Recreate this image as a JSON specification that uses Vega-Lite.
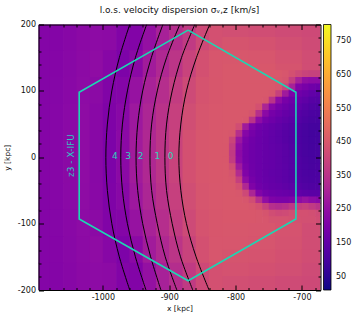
{"$schema":"https://vega.github.io/schema/vega-lite/v6.json","width":282,"height":265.5,"autosize":{"type":"none"},"padding":{"left":38.5,"top":24.5,"right":36.5,"bottom":29},"background":"white","view":{"stroke":null},
"title":{"text":"l.o.s. velocity dispersion σᵥ,z [km/s]","font":"DejaVu Sans","fontSize":9,"fontWeight":"normal","color":"#111","anchor":"middle","offset":6},
"datasets":{
"cells":[
{"x":-1100,"x2":-1080,"y":160,"y2":200,"v":220},{"x":-1080,"x2":-1060,"y":160,"y2":200,"v":221},{"x":-1060,"x2":-1040,"y":160,"y2":200,"v":227},{"x":-1040,"x2":-1020,"y":160,"y2":200,"v":235},{"x":-1020,"x2":-1000,"y":160,"y2":200,"v":240},{"x":-1000,"x2":-980,"y":160,"y2":200,"v":238},{"x":-980,"x2":-960,"y":160,"y2":200,"v":217},{"x":-960,"x2":-940,"y":160,"y2":200,"v":217},{"x":-940,"x2":-920,"y":160,"y2":200,"v":255},{"x":-920,"x2":-900,"y":160,"y2":200,"v":300},{"x":-900,"x2":-880,"y":160,"y2":200,"v":335},{"x":-880,"x2":-860,"y":160,"y2":200,"v":370},{"x":-860,"x2":-840,"y":160,"y2":200,"v":410},{"x":-840,"x2":-820,"y":160,"y2":200,"v":430},
{"x":-1100,"x2":-1080,"y":120,"y2":160,"v":220},{"x":-1080,"x2":-1060,"y":120,"y2":160,"v":222},{"x":-1060,"x2":-1040,"y":120,"y2":160,"v":229},{"x":-1040,"x2":-1020,"y":120,"y2":160,"v":238},{"x":-1020,"x2":-1000,"y":120,"y2":160,"v":244},{"x":-1000,"x2":-980,"y":120,"y2":160,"v":228},{"x":-980,"x2":-960,"y":120,"y2":160,"v":205},{"x":-960,"x2":-940,"y":120,"y2":160,"v":235},{"x":-940,"x2":-920,"y":120,"y2":160,"v":285},{"x":-920,"x2":-900,"y":120,"y2":160,"v":320},{"x":-900,"x2":-880,"y":120,"y2":160,"v":355},{"x":-880,"x2":-860,"y":120,"y2":160,"v":395},{"x":-860,"x2":-840,"y":120,"y2":160,"v":430},{"x":-840,"x2":-820,"y":120,"y2":160,"v":445},
{"x":-1100,"x2":-1080,"y":80,"y2":120,"v":220},{"x":-1080,"x2":-1060,"y":80,"y2":120,"v":223},{"x":-1060,"x2":-1040,"y":80,"y2":120,"v":231},{"x":-1040,"x2":-1020,"y":80,"y2":120,"v":241},{"x":-1020,"x2":-1000,"y":80,"y2":120,"v":236},{"x":-1000,"x2":-980,"y":80,"y2":120,"v":215},{"x":-980,"x2":-960,"y":80,"y2":120,"v":220},{"x":-960,"x2":-940,"y":80,"y2":120,"v":260},{"x":-940,"x2":-920,"y":80,"y2":120,"v":302},{"x":-920,"x2":-900,"y":80,"y2":120,"v":337},{"x":-900,"x2":-880,"y":80,"y2":120,"v":375},{"x":-880,"x2":-860,"y":80,"y2":120,"v":412},{"x":-860,"x2":-840,"y":80,"y2":120,"v":437},{"x":-840,"x2":-820,"y":80,"y2":120,"v":447},
{"x":-1100,"x2":-1080,"y":40,"y2":80,"v":221},{"x":-1080,"x2":-1060,"y":40,"y2":80,"v":224},{"x":-1060,"x2":-1040,"y":40,"y2":80,"v":233},{"x":-1040,"x2":-1020,"y":40,"y2":80,"v":243},{"x":-1020,"x2":-1000,"y":40,"y2":80,"v":232},{"x":-1000,"x2":-980,"y":40,"y2":80,"v":209},{"x":-980,"x2":-960,"y":40,"y2":80,"v":229},{"x":-960,"x2":-940,"y":40,"y2":80,"v":275},{"x":-940,"x2":-920,"y":40,"y2":80,"v":313},{"x":-920,"x2":-900,"y":40,"y2":80,"v":348},{"x":-900,"x2":-880,"y":40,"y2":80,"v":387},{"x":-880,"x2":-860,"y":40,"y2":80,"v":423},{"x":-860,"x2":-840,"y":40,"y2":80,"v":442},{"x":-840,"x2":-820,"y":40,"y2":80,"v":449},
{"x":-1100,"x2":-1080,"y":-40,"y2":40,"v":222},{"x":-1080,"x2":-1060,"y":-40,"y2":40,"v":225},{"x":-1060,"x2":-1040,"y":-40,"y2":40,"v":234},{"x":-1040,"x2":-1020,"y":-40,"y2":40,"v":244},{"x":-1020,"x2":-1000,"y":-40,"y2":40,"v":230},{"x":-1000,"x2":-980,"y":-40,"y2":40,"v":205},{"x":-980,"x2":-960,"y":-40,"y2":40,"v":235},{"x":-960,"x2":-940,"y":-40,"y2":40,"v":285},{"x":-940,"x2":-920,"y":-40,"y2":40,"v":320},{"x":-920,"x2":-900,"y":-40,"y2":40,"v":355},{"x":-900,"x2":-880,"y":-40,"y2":40,"v":395},{"x":-880,"x2":-860,"y":-40,"y2":40,"v":430},{"x":-860,"x2":-840,"y":-40,"y2":40,"v":445},{"x":-840,"x2":-820,"y":-40,"y2":40,"v":450},
{"x":-1100,"x2":-1080,"y":-80,"y2":-40,"v":221},{"x":-1080,"x2":-1060,"y":-80,"y2":-40,"v":224},{"x":-1060,"x2":-1040,"y":-80,"y2":-40,"v":233},{"x":-1040,"x2":-1020,"y":-80,"y2":-40,"v":243},{"x":-1020,"x2":-1000,"y":-80,"y2":-40,"v":232},{"x":-1000,"x2":-980,"y":-80,"y2":-40,"v":209},{"x":-980,"x2":-960,"y":-80,"y2":-40,"v":229},{"x":-960,"x2":-940,"y":-80,"y2":-40,"v":275},{"x":-940,"x2":-920,"y":-80,"y2":-40,"v":313},{"x":-920,"x2":-900,"y":-80,"y2":-40,"v":348},{"x":-900,"x2":-880,"y":-80,"y2":-40,"v":387},{"x":-880,"x2":-860,"y":-80,"y2":-40,"v":423},{"x":-860,"x2":-840,"y":-80,"y2":-40,"v":442},{"x":-840,"x2":-820,"y":-80,"y2":-40,"v":449},
{"x":-1100,"x2":-1080,"y":-120,"y2":-80,"v":220},{"x":-1080,"x2":-1060,"y":-120,"y2":-80,"v":223},{"x":-1060,"x2":-1040,"y":-120,"y2":-80,"v":231},{"x":-1040,"x2":-1020,"y":-120,"y2":-80,"v":241},{"x":-1020,"x2":-1000,"y":-120,"y2":-80,"v":236},{"x":-1000,"x2":-980,"y":-120,"y2":-80,"v":215},{"x":-980,"x2":-960,"y":-120,"y2":-80,"v":220},{"x":-960,"x2":-940,"y":-120,"y2":-80,"v":260},{"x":-940,"x2":-920,"y":-120,"y2":-80,"v":302},{"x":-920,"x2":-900,"y":-120,"y2":-80,"v":337},{"x":-900,"x2":-880,"y":-120,"y2":-80,"v":375},{"x":-880,"x2":-860,"y":-120,"y2":-80,"v":412},{"x":-860,"x2":-840,"y":-120,"y2":-80,"v":437},{"x":-840,"x2":-820,"y":-120,"y2":-80,"v":447},
{"x":-1100,"x2":-1080,"y":-160,"y2":-120,"v":220},{"x":-1080,"x2":-1060,"y":-160,"y2":-120,"v":222},{"x":-1060,"x2":-1040,"y":-160,"y2":-120,"v":229},{"x":-1040,"x2":-1020,"y":-160,"y2":-120,"v":238},{"x":-1020,"x2":-1000,"y":-160,"y2":-120,"v":244},{"x":-1000,"x2":-980,"y":-160,"y2":-120,"v":228},{"x":-980,"x2":-960,"y":-160,"y2":-120,"v":205},{"x":-960,"x2":-940,"y":-160,"y2":-120,"v":235},{"x":-940,"x2":-920,"y":-160,"y2":-120,"v":285},{"x":-920,"x2":-900,"y":-160,"y2":-120,"v":320},{"x":-900,"x2":-880,"y":-160,"y2":-120,"v":355},{"x":-880,"x2":-860,"y":-160,"y2":-120,"v":395},{"x":-860,"x2":-840,"y":-160,"y2":-120,"v":430},{"x":-840,"x2":-820,"y":-160,"y2":-120,"v":445},
{"x":-1100,"x2":-1080,"y":-200,"y2":-160,"v":220},{"x":-1080,"x2":-1060,"y":-200,"y2":-160,"v":221},{"x":-1060,"x2":-1040,"y":-200,"y2":-160,"v":227},{"x":-1040,"x2":-1020,"y":-200,"y2":-160,"v":235},{"x":-1020,"x2":-1000,"y":-200,"y2":-160,"v":240},{"x":-1000,"x2":-980,"y":-200,"y2":-160,"v":238},{"x":-980,"x2":-960,"y":-200,"y2":-160,"v":217},{"x":-960,"x2":-940,"y":-200,"y2":-160,"v":217},{"x":-940,"x2":-920,"y":-200,"y2":-160,"v":255},{"x":-920,"x2":-900,"y":-200,"y2":-160,"v":300},{"x":-900,"x2":-880,"y":-200,"y2":-160,"v":335},{"x":-880,"x2":-860,"y":-200,"y2":-160,"v":370},{"x":-860,"x2":-840,"y":-200,"y2":-160,"v":410},{"x":-840,"x2":-820,"y":-200,"y2":-160,"v":430},
{"x":-820,"x2":-780,"y":180,"y2":200,"v":425},{"x":-780,"x2":-740,"y":180,"y2":200,"v":420},{"x":-740,"x2":-700,"y":180,"y2":200,"v":415},{"x":-700,"x2":-660,"y":180,"y2":200,"v":410},
{"x":-820,"x2":-780,"y":160,"y2":180,"v":440},{"x":-780,"x2":-740,"y":160,"y2":180,"v":435},{"x":-740,"x2":-700,"y":160,"y2":180,"v":425},{"x":-700,"x2":-660,"y":160,"y2":180,"v":415},
{"x":-820,"x2":-780,"y":140,"y2":160,"v":448},{"x":-780,"x2":-740,"y":140,"y2":160,"v":445},{"x":-740,"x2":-700,"y":140,"y2":160,"v":435},{"x":-700,"x2":-660,"y":140,"y2":160,"v":420},
{"x":-820,"x2":-780,"y":130,"y2":140,"v":452},{"x":-780,"x2":-740,"y":130,"y2":140,"v":450},{"x":-740,"x2":-700,"y":130,"y2":140,"v":440},{"x":-700,"x2":-660,"y":130,"y2":140,"v":420},
{"x":-820,"x2":-730,"y":120,"y2":130,"v":452},{"x":-730,"x2":-720,"y":120,"y2":130,"v":445},{"x":-720,"x2":-710,"y":120,"y2":130,"v":430},{"x":-710,"x2":-700,"y":120,"y2":130,"v":410},{"x":-700,"x2":-690,"y":120,"y2":130,"v":395},{"x":-690,"x2":-670,"y":120,"y2":130,"v":390},
{"x":-820,"x2":-740,"y":110,"y2":120,"v":452},{"x":-740,"x2":-730,"y":110,"y2":120,"v":448},{"x":-730,"x2":-720,"y":110,"y2":120,"v":440},{"x":-720,"x2":-710,"y":110,"y2":120,"v":380},{"x":-710,"x2":-700,"y":110,"y2":120,"v":300},{"x":-700,"x2":-690,"y":110,"y2":120,"v":250},{"x":-690,"x2":-670,"y":110,"y2":120,"v":240},
{"x":-820,"x2":-740,"y":100,"y2":110,"v":452},{"x":-740,"x2":-730,"y":100,"y2":110,"v":445},{"x":-730,"x2":-720,"y":100,"y2":110,"v":400},{"x":-720,"x2":-710,"y":100,"y2":110,"v":300},{"x":-710,"x2":-700,"y":100,"y2":110,"v":215},{"x":-700,"x2":-690,"y":100,"y2":110,"v":195},{"x":-690,"x2":-680,"y":100,"y2":110,"v":180},{"x":-680,"x2":-670,"y":100,"y2":110,"v":170},
{"x":-820,"x2":-750,"y":90,"y2":100,"v":452},{"x":-750,"x2":-740,"y":90,"y2":100,"v":445},{"x":-740,"x2":-730,"y":90,"y2":100,"v":390},{"x":-730,"x2":-720,"y":90,"y2":100,"v":280},{"x":-720,"x2":-710,"y":90,"y2":100,"v":205},{"x":-710,"x2":-700,"y":90,"y2":100,"v":180},{"x":-700,"x2":-690,"y":90,"y2":100,"v":165},{"x":-690,"x2":-680,"y":90,"y2":100,"v":150},{"x":-680,"x2":-670,"y":90,"y2":100,"v":140},
{"x":-820,"x2":-760,"y":80,"y2":90,"v":452},{"x":-760,"x2":-750,"y":80,"y2":90,"v":445},{"x":-750,"x2":-740,"y":80,"y2":90,"v":350},{"x":-740,"x2":-730,"y":80,"y2":90,"v":240},{"x":-730,"x2":-720,"y":80,"y2":90,"v":195},{"x":-720,"x2":-710,"y":80,"y2":90,"v":175},{"x":-710,"x2":-700,"y":80,"y2":90,"v":160},{"x":-700,"x2":-690,"y":80,"y2":90,"v":145},{"x":-690,"x2":-680,"y":80,"y2":90,"v":130},{"x":-680,"x2":-670,"y":80,"y2":90,"v":125},
{"x":-820,"x2":-770,"y":70,"y2":80,"v":452},{"x":-770,"x2":-760,"y":70,"y2":80,"v":430},{"x":-760,"x2":-750,"y":70,"y2":80,"v":310},{"x":-750,"x2":-740,"y":70,"y2":80,"v":225},{"x":-740,"x2":-730,"y":70,"y2":80,"v":190},{"x":-730,"x2":-720,"y":70,"y2":80,"v":175},{"x":-720,"x2":-710,"y":70,"y2":80,"v":160},{"x":-710,"x2":-700,"y":70,"y2":80,"v":145},{"x":-700,"x2":-690,"y":70,"y2":80,"v":130},{"x":-690,"x2":-680,"y":70,"y2":80,"v":118},{"x":-680,"x2":-670,"y":70,"y2":80,"v":112},
{"x":-820,"x2":-780,"y":60,"y2":70,"v":452},{"x":-780,"x2":-770,"y":60,"y2":70,"v":440},{"x":-770,"x2":-760,"y":60,"y2":70,"v":340},{"x":-760,"x2":-750,"y":60,"y2":70,"v":235},{"x":-750,"x2":-740,"y":60,"y2":70,"v":190},{"x":-740,"x2":-730,"y":60,"y2":70,"v":175},{"x":-730,"x2":-720,"y":60,"y2":70,"v":160},{"x":-720,"x2":-710,"y":60,"y2":70,"v":148},{"x":-710,"x2":-700,"y":60,"y2":70,"v":130},{"x":-700,"x2":-690,"y":60,"y2":70,"v":118},{"x":-690,"x2":-680,"y":60,"y2":70,"v":108},{"x":-680,"x2":-670,"y":60,"y2":70,"v":105},
{"x":-820,"x2":-790,"y":50,"y2":60,"v":452},{"x":-790,"x2":-780,"y":50,"y2":60,"v":445},{"x":-780,"x2":-770,"y":50,"y2":60,"v":350},{"x":-770,"x2":-760,"y":50,"y2":60,"v":240},{"x":-760,"x2":-750,"y":50,"y2":60,"v":190},{"x":-750,"x2":-740,"y":50,"y2":60,"v":175},{"x":-740,"x2":-730,"y":50,"y2":60,"v":160},{"x":-730,"x2":-720,"y":50,"y2":60,"v":148},{"x":-720,"x2":-710,"y":50,"y2":60,"v":135},{"x":-710,"x2":-700,"y":50,"y2":60,"v":122},{"x":-700,"x2":-690,"y":50,"y2":60,"v":110},{"x":-690,"x2":-680,"y":50,"y2":60,"v":102},{"x":-680,"x2":-670,"y":50,"y2":60,"v":100},
{"x":-820,"x2":-800,"y":40,"y2":50,"v":452},{"x":-800,"x2":-790,"y":40,"y2":50,"v":420},{"x":-790,"x2":-780,"y":40,"y2":50,"v":280},{"x":-780,"x2":-770,"y":40,"y2":50,"v":205},{"x":-770,"x2":-760,"y":40,"y2":50,"v":180},{"x":-760,"x2":-750,"y":40,"y2":50,"v":168},{"x":-750,"x2":-740,"y":40,"y2":50,"v":158},{"x":-740,"x2":-730,"y":40,"y2":50,"v":148},{"x":-730,"x2":-720,"y":40,"y2":50,"v":135},{"x":-720,"x2":-710,"y":40,"y2":50,"v":125},{"x":-710,"x2":-700,"y":40,"y2":50,"v":112},{"x":-700,"x2":-690,"y":40,"y2":50,"v":102},{"x":-690,"x2":-670,"y":40,"y2":50,"v":95},
{"x":-820,"x2":-810,"y":30,"y2":40,"v":452},{"x":-810,"x2":-800,"y":30,"y2":40,"v":445},{"x":-800,"x2":-790,"y":30,"y2":40,"v":340},{"x":-790,"x2":-780,"y":30,"y2":40,"v":225},{"x":-780,"x2":-770,"y":30,"y2":40,"v":190},{"x":-770,"x2":-760,"y":30,"y2":40,"v":172},{"x":-760,"x2":-750,"y":30,"y2":40,"v":162},{"x":-750,"x2":-740,"y":30,"y2":40,"v":152},{"x":-740,"x2":-730,"y":30,"y2":40,"v":142},{"x":-730,"x2":-720,"y":30,"y2":40,"v":130},{"x":-720,"x2":-710,"y":30,"y2":40,"v":120},{"x":-710,"x2":-700,"y":30,"y2":40,"v":108},{"x":-700,"x2":-690,"y":30,"y2":40,"v":98},{"x":-690,"x2":-680,"y":30,"y2":40,"v":90},{"x":-680,"x2":-670,"y":30,"y2":40,"v":92},
{"x":-820,"x2":-810,"y":20,"y2":30,"v":452},{"x":-810,"x2":-800,"y":20,"y2":30,"v":400},{"x":-800,"x2":-790,"y":20,"y2":30,"v":270},{"x":-790,"x2":-780,"y":20,"y2":30,"v":200},{"x":-780,"x2":-770,"y":20,"y2":30,"v":180},{"x":-770,"x2":-760,"y":20,"y2":30,"v":168},{"x":-760,"x2":-750,"y":20,"y2":30,"v":160},{"x":-750,"x2":-740,"y":20,"y2":30,"v":150},{"x":-740,"x2":-730,"y":20,"y2":30,"v":142},{"x":-730,"x2":-720,"y":20,"y2":30,"v":130},{"x":-720,"x2":-710,"y":20,"y2":30,"v":118},{"x":-710,"x2":-700,"y":20,"y2":30,"v":108},{"x":-700,"x2":-690,"y":20,"y2":30,"v":98},{"x":-690,"x2":-680,"y":20,"y2":30,"v":92},{"x":-680,"x2":-670,"y":20,"y2":30,"v":95},
{"x":-820,"x2":-810,"y":10,"y2":20,"v":450},{"x":-810,"x2":-800,"y":10,"y2":20,"v":380},{"x":-800,"x2":-790,"y":10,"y2":20,"v":245},{"x":-790,"x2":-780,"y":10,"y2":20,"v":195},{"x":-780,"x2":-770,"y":10,"y2":20,"v":178},{"x":-770,"x2":-760,"y":10,"y2":20,"v":168},{"x":-760,"x2":-750,"y":10,"y2":20,"v":160},{"x":-750,"x2":-740,"y":10,"y2":20,"v":152},{"x":-740,"x2":-730,"y":10,"y2":20,"v":145},{"x":-730,"x2":-720,"y":10,"y2":20,"v":135},{"x":-720,"x2":-710,"y":10,"y2":20,"v":122},{"x":-710,"x2":-700,"y":10,"y2":20,"v":110},{"x":-700,"x2":-690,"y":10,"y2":20,"v":100},{"x":-690,"x2":-680,"y":10,"y2":20,"v":95},{"x":-680,"x2":-670,"y":10,"y2":20,"v":98},
{"x":-820,"x2":-810,"y":0,"y2":10,"v":450},{"x":-810,"x2":-800,"y":0,"y2":10,"v":370},{"x":-800,"x2":-790,"y":0,"y2":10,"v":235},{"x":-790,"x2":-780,"y":0,"y2":10,"v":190},{"x":-780,"x2":-770,"y":0,"y2":10,"v":175},{"x":-770,"x2":-760,"y":0,"y2":10,"v":168},{"x":-760,"x2":-750,"y":0,"y2":10,"v":160},{"x":-750,"x2":-740,"y":0,"y2":10,"v":155},{"x":-740,"x2":-730,"y":0,"y2":10,"v":148},{"x":-730,"x2":-720,"y":0,"y2":10,"v":138},{"x":-720,"x2":-710,"y":0,"y2":10,"v":125},{"x":-710,"x2":-700,"y":0,"y2":10,"v":112},{"x":-700,"x2":-690,"y":0,"y2":10,"v":102},{"x":-690,"x2":-680,"y":0,"y2":10,"v":98},{"x":-680,"x2":-670,"y":0,"y2":10,"v":100},
{"x":-820,"x2":-810,"y":-10,"y2":0,"v":450},{"x":-810,"x2":-800,"y":-10,"y2":0,"v":375},{"x":-800,"x2":-790,"y":-10,"y2":0,"v":240},{"x":-790,"x2":-780,"y":-10,"y2":0,"v":190},{"x":-780,"x2":-770,"y":-10,"y2":0,"v":175},{"x":-770,"x2":-760,"y":-10,"y2":0,"v":168},{"x":-760,"x2":-750,"y":-10,"y2":0,"v":160},{"x":-750,"x2":-740,"y":-10,"y2":0,"v":155},{"x":-740,"x2":-730,"y":-10,"y2":0,"v":148},{"x":-730,"x2":-720,"y":-10,"y2":0,"v":138},{"x":-720,"x2":-710,"y":-10,"y2":0,"v":128},{"x":-710,"x2":-700,"y":-10,"y2":0,"v":115},{"x":-700,"x2":-690,"y":-10,"y2":0,"v":105},{"x":-690,"x2":-680,"y":-10,"y2":0,"v":100},{"x":-680,"x2":-670,"y":-10,"y2":0,"v":102},
{"x":-820,"x2":-810,"y":-20,"y2":-10,"v":452},{"x":-810,"x2":-800,"y":-20,"y2":-10,"v":420},{"x":-800,"x2":-790,"y":-20,"y2":-10,"v":280},{"x":-790,"x2":-780,"y":-20,"y2":-10,"v":200},{"x":-780,"x2":-770,"y":-20,"y2":-10,"v":178},{"x":-770,"x2":-760,"y":-20,"y2":-10,"v":168},{"x":-760,"x2":-750,"y":-20,"y2":-10,"v":160},{"x":-750,"x2":-740,"y":-20,"y2":-10,"v":155},{"x":-740,"x2":-730,"y":-20,"y2":-10,"v":148},{"x":-730,"x2":-720,"y":-20,"y2":-10,"v":140},{"x":-720,"x2":-710,"y":-20,"y2":-10,"v":128},{"x":-710,"x2":-700,"y":-20,"y2":-10,"v":116},{"x":-700,"x2":-690,"y":-20,"y2":-10,"v":108},{"x":-690,"x2":-680,"y":-20,"y2":-10,"v":102},{"x":-680,"x2":-670,"y":-20,"y2":-10,"v":105},
{"x":-820,"x2":-810,"y":-30,"y2":-20,"v":452},{"x":-810,"x2":-800,"y":-30,"y2":-20,"v":440},{"x":-800,"x2":-790,"y":-30,"y2":-20,"v":330},{"x":-790,"x2":-780,"y":-30,"y2":-20,"v":215},{"x":-780,"x2":-770,"y":-30,"y2":-20,"v":182},{"x":-770,"x2":-760,"y":-30,"y2":-20,"v":170},{"x":-760,"x2":-750,"y":-30,"y2":-20,"v":160},{"x":-750,"x2":-740,"y":-30,"y2":-20,"v":152},{"x":-740,"x2":-730,"y":-30,"y2":-20,"v":147},{"x":-730,"x2":-720,"y":-30,"y2":-20,"v":140},{"x":-720,"x2":-710,"y":-30,"y2":-20,"v":128},{"x":-710,"x2":-700,"y":-30,"y2":-20,"v":118},{"x":-700,"x2":-690,"y":-30,"y2":-20,"v":108},{"x":-690,"x2":-680,"y":-30,"y2":-20,"v":105},{"x":-680,"x2":-670,"y":-30,"y2":-20,"v":108},
{"x":-820,"x2":-810,"y":-40,"y2":-30,"v":452},{"x":-810,"x2":-800,"y":-40,"y2":-30,"v":448},{"x":-800,"x2":-790,"y":-40,"y2":-30,"v":385},{"x":-790,"x2":-780,"y":-40,"y2":-30,"v":245},{"x":-780,"x2":-770,"y":-40,"y2":-30,"v":190},{"x":-770,"x2":-760,"y":-40,"y2":-30,"v":172},{"x":-760,"x2":-750,"y":-40,"y2":-30,"v":162},{"x":-750,"x2":-740,"y":-40,"y2":-30,"v":155},{"x":-740,"x2":-730,"y":-40,"y2":-30,"v":148},{"x":-730,"x2":-720,"y":-40,"y2":-30,"v":140},{"x":-720,"x2":-710,"y":-40,"y2":-30,"v":130},{"x":-710,"x2":-700,"y":-40,"y2":-30,"v":120},{"x":-700,"x2":-690,"y":-40,"y2":-30,"v":112},{"x":-690,"x2":-680,"y":-40,"y2":-30,"v":108},{"x":-680,"x2":-670,"y":-40,"y2":-30,"v":110},
{"x":-820,"x2":-800,"y":-50,"y2":-40,"v":452},{"x":-800,"x2":-790,"y":-50,"y2":-40,"v":430},{"x":-790,"x2":-780,"y":-50,"y2":-40,"v":320},{"x":-780,"x2":-770,"y":-50,"y2":-40,"v":210},{"x":-770,"x2":-760,"y":-50,"y2":-40,"v":180},{"x":-760,"x2":-750,"y":-50,"y2":-40,"v":168},{"x":-750,"x2":-740,"y":-50,"y2":-40,"v":160},{"x":-740,"x2":-730,"y":-50,"y2":-40,"v":155},{"x":-730,"x2":-720,"y":-50,"y2":-40,"v":148},{"x":-720,"x2":-710,"y":-50,"y2":-40,"v":140},{"x":-710,"x2":-700,"y":-50,"y2":-40,"v":130},{"x":-700,"x2":-690,"y":-50,"y2":-40,"v":120},{"x":-690,"x2":-680,"y":-50,"y2":-40,"v":115},{"x":-680,"x2":-670,"y":-50,"y2":-40,"v":118},
{"x":-820,"x2":-800,"y":-60,"y2":-50,"v":452},{"x":-800,"x2":-790,"y":-60,"y2":-50,"v":448},{"x":-790,"x2":-780,"y":-60,"y2":-50,"v":410},{"x":-780,"x2":-770,"y":-60,"y2":-50,"v":310},{"x":-770,"x2":-760,"y":-60,"y2":-50,"v":215},{"x":-760,"x2":-750,"y":-60,"y2":-50,"v":185},{"x":-750,"x2":-740,"y":-60,"y2":-50,"v":175},{"x":-740,"x2":-730,"y":-60,"y2":-50,"v":170},{"x":-730,"x2":-720,"y":-60,"y2":-50,"v":165},{"x":-720,"x2":-710,"y":-60,"y2":-50,"v":160},{"x":-710,"x2":-700,"y":-60,"y2":-50,"v":150},{"x":-700,"x2":-690,"y":-60,"y2":-50,"v":140},{"x":-690,"x2":-670,"y":-60,"y2":-50,"v":135},
{"x":-820,"x2":-790,"y":-70,"y2":-60,"v":452},{"x":-790,"x2":-780,"y":-70,"y2":-60,"v":445},{"x":-780,"x2":-770,"y":-70,"y2":-60,"v":420},{"x":-770,"x2":-760,"y":-70,"y2":-60,"v":340},{"x":-760,"x2":-750,"y":-70,"y2":-60,"v":250},{"x":-750,"x2":-740,"y":-70,"y2":-60,"v":210},{"x":-740,"x2":-720,"y":-70,"y2":-60,"v":200},{"x":-720,"x2":-710,"y":-70,"y2":-60,"v":210},{"x":-710,"x2":-700,"y":-70,"y2":-60,"v":240},{"x":-700,"x2":-690,"y":-70,"y2":-60,"v":260},{"x":-690,"x2":-680,"y":-70,"y2":-60,"v":240},{"x":-680,"x2":-670,"y":-70,"y2":-60,"v":230},
{"x":-820,"x2":-780,"y":-80,"y2":-70,"v":452},{"x":-780,"x2":-770,"y":-80,"y2":-70,"v":445},{"x":-770,"x2":-760,"y":-80,"y2":-70,"v":430},{"x":-760,"x2":-750,"y":-80,"y2":-70,"v":390},{"x":-750,"x2":-740,"y":-80,"y2":-70,"v":340},{"x":-740,"x2":-730,"y":-80,"y2":-70,"v":330},{"x":-730,"x2":-720,"y":-80,"y2":-70,"v":340},{"x":-720,"x2":-710,"y":-80,"y2":-70,"v":360},{"x":-710,"x2":-700,"y":-80,"y2":-70,"v":380},{"x":-700,"x2":-690,"y":-80,"y2":-70,"v":390},{"x":-690,"x2":-680,"y":-80,"y2":-70,"v":370},{"x":-680,"x2":-670,"y":-80,"y2":-70,"v":350},
{"x":-820,"x2":-770,"y":-90,"y2":-80,"v":450},{"x":-770,"x2":-760,"y":-90,"y2":-80,"v":448},{"x":-760,"x2":-750,"y":-90,"y2":-80,"v":440},{"x":-750,"x2":-740,"y":-90,"y2":-80,"v":420},{"x":-740,"x2":-730,"y":-90,"y2":-80,"v":410},{"x":-730,"x2":-720,"y":-90,"y2":-80,"v":415},{"x":-720,"x2":-710,"y":-90,"y2":-80,"v":425},{"x":-710,"x2":-690,"y":-90,"y2":-80,"v":430},{"x":-690,"x2":-680,"y":-90,"y2":-80,"v":425},{"x":-680,"x2":-670,"y":-90,"y2":-80,"v":415},
{"x":-820,"x2":-770,"y":-100,"y2":-90,"v":450},{"x":-770,"x2":-760,"y":-100,"y2":-90,"v":448},{"x":-760,"x2":-750,"y":-100,"y2":-90,"v":445},{"x":-750,"x2":-720,"y":-100,"y2":-90,"v":436},{"x":-720,"x2":-700,"y":-100,"y2":-90,"v":432},{"x":-700,"x2":-680,"y":-100,"y2":-90,"v":428},{"x":-680,"x2":-670,"y":-100,"y2":-90,"v":420},
{"x":-820,"x2":-780,"y":-120,"y2":-100,"v":448},{"x":-780,"x2":-740,"y":-120,"y2":-100,"v":445},{"x":-740,"x2":-700,"y":-120,"y2":-100,"v":438},{"x":-700,"x2":-660,"y":-120,"y2":-100,"v":422},
{"x":-820,"x2":-780,"y":-140,"y2":-120,"v":445},{"x":-780,"x2":-740,"y":-140,"y2":-120,"v":442},{"x":-740,"x2":-700,"y":-140,"y2":-120,"v":435},{"x":-700,"x2":-660,"y":-140,"y2":-120,"v":420},
{"x":-820,"x2":-780,"y":-160,"y2":-140,"v":440},{"x":-780,"x2":-740,"y":-160,"y2":-140,"v":438},{"x":-740,"x2":-700,"y":-160,"y2":-140,"v":430},{"x":-700,"x2":-660,"y":-160,"y2":-140,"v":420},
{"x":-820,"x2":-780,"y":-180,"y2":-160,"v":435},{"x":-780,"x2":-740,"y":-180,"y2":-160,"v":430},{"x":-740,"x2":-700,"y":-180,"y2":-160,"v":425},{"x":-700,"x2":-660,"y":-180,"y2":-160,"v":415},
{"x":-820,"x2":-780,"y":-200,"y2":-180,"v":425},{"x":-780,"x2":-740,"y":-200,"y2":-180,"v":420},{"x":-740,"x2":-700,"y":-200,"y2":-180,"v":415},{"x":-700,"x2":-660,"y":-200,"y2":-180,"v":410}
],
"contours":[
{"c":"a","x":-959.5,"y":200},{"c":"a","x":-975.2,"y":150},{"c":"a","x":-986.5,"y":100},{"c":"a","x":-993.2,"y":50},{"c":"a","x":-995.5,"y":0},{"c":"a","x":-993.2,"y":-50},{"c":"a","x":-986.5,"y":-100},{"c":"a","x":-975.2,"y":-150},{"c":"a","x":-959.5,"y":-200},
{"c":"b","x":-934,"y":200},{"c":"b","x":-951,"y":150},{"c":"b","x":-963,"y":100},{"c":"b","x":-970.5,"y":50},{"c":"b","x":-973,"y":0},{"c":"b","x":-970.5,"y":-50},{"c":"b","x":-963,"y":-100},{"c":"b","x":-951,"y":-150},{"c":"b","x":-935,"y":-200},
{"c":"c","x":-909.5,"y":200},{"c":"c","x":-927,"y":150},{"c":"c","x":-940,"y":100},{"c":"c","x":-947.5,"y":50},{"c":"c","x":-950,"y":0},{"c":"c","x":-947.5,"y":-50},{"c":"c","x":-940,"y":-100},{"c":"c","x":-928,"y":-150},{"c":"c","x":-912.5,"y":-200},
{"c":"d","x":-884,"y":200},{"c":"d","x":-904,"y":150},{"c":"d","x":-918,"y":100},{"c":"d","x":-926.5,"y":50},{"c":"d","x":-929,"y":0},{"c":"d","x":-926.5,"y":-50},{"c":"d","x":-918,"y":-100},{"c":"d","x":-906,"y":-150},{"c":"d","x":-888.5,"y":-200},
{"c":"e","x":-861.5,"y":200},{"c":"e","x":-881.5,"y":150},{"c":"e","x":-895.5,"y":100},{"c":"e","x":-904,"y":50},{"c":"e","x":-906.5,"y":0},{"c":"e","x":-904,"y":-50},{"c":"e","x":-895.5,"y":-100},{"c":"e","x":-883,"y":-150},{"c":"e","x":-864.5,"y":-200},
{"c":"f","x":-839,"y":200},{"c":"f","x":-859,"y":150},{"c":"f","x":-874,"y":100},{"c":"f","x":-882.5,"y":50},{"c":"f","x":-885.5,"y":0},{"c":"f","x":-882.5,"y":-50},{"c":"f","x":-874,"y":-100},{"c":"f","x":-859.5,"y":-150},{"c":"f","x":-840,"y":-200}
],
"hex":[{"i":0,"x":-871.5,"y":191.5},{"i":1,"x":-709,"y":98},{"i":2,"x":-709,"y":-93},{"i":3,"x":-871.5,"y":-186},{"i":4,"x":-1035.7,"y":-93},{"i":5,"x":-1035.7,"y":98},{"i":6,"x":-871.5,"y":191.5}],
"labels":[{"x":-982,"y":2,"t":"4"},{"x":-962,"y":2,"t":"3"},{"x":-943,"y":2,"t":"2"},{"x":-918,"y":2,"t":"1"},{"x":-898,"y":2,"t":"0"}],
"fov":[{"x":-1048,"y":2.5,"t":"z3 - X-IFU"}]
},
"encoding":{},
"resolve":{"axis":{"x":"independent","y":"independent"}},
"layer":[
{"data":{"name":"cells"},"mark":{"type":"rect","clip":true,"x2Offset":0.7,"y2Offset":-0.7},
"encoding":{
"x":{"field":"x","type":"quantitative","scale":{"domain":[-1097,-672],"nice":false,"zero":false},
"axis":{"orient":"bottom","values":[-1000,-900,-800,-700],"tickSize":-5,"tickColor":"#000","domain":true,"domainColor":"#000","domainWidth":1,"grid":false,"zindex":1,"labelFont":"DejaVu Sans","labelFontSize":8,"labelColor":"#111","labelPadding":8,"labelExpr":"''+datum.value","title":"x [kpc]","titleFont":"DejaVu Sans","titleFontSize":7.5,"titleFontWeight":"normal","titleColor":"#111","titlePadding":3}},
"x2":{"field":"x2"},
"y":{"field":"y","type":"quantitative","scale":{"domain":[-200,200],"nice":false,"zero":false},
"axis":{"orient":"left","values":[-200,-100,0,100,200],"tickSize":-5,"tickColor":"#000","domain":true,"domainColor":"#000","domainWidth":1,"grid":false,"zindex":1,"labelFont":"DejaVu Sans","labelFontSize":8,"labelColor":"#111","labelPadding":8,"labelExpr":"''+datum.value","title":"y [kpc]","titleFont":"DejaVu Sans","titleFontSize":7.5,"titleFontWeight":"normal","titleColor":"#111","titlePadding":6}},
"y2":{"field":"y2"},
"color":{"field":"v","type":"quantitative","scale":{"scheme":"plasma","domain":[10,800]},
"legend":{"type":"gradient","orient":"none","legendX":285,"legendY":0,"title":null,"gradientLength":265.5,"gradientThickness":7.5,"gradientStrokeColor":"#000","gradientStrokeWidth":0.8,"values":[50,150,250,350,450,550,650,750],"labelFont":"DejaVu Sans","labelFontSize":8,"labelColor":"#111","labelOffset":5}}
}},
{"data":{"name":"contours"},"mark":{"type":"line","clip":true,"color":"#000","strokeWidth":1,"interpolate":"catmull-rom"},
"encoding":{
"x":{"field":"x","type":"quantitative","axis":{"orient":"top","values":[-1000,-900,-800,-700],"tickSize":-5,"tickColor":"#000","domain":true,"domainColor":"#000","domainWidth":1,"labels":false,"grid":false,"zindex":1,"title":null}},
"y":{"field":"y","type":"quantitative","axis":{"orient":"right","values":[-200,-100,0,100,200],"tickSize":-5,"tickColor":"#000","domain":true,"domainColor":"#000","domainWidth":1,"labels":false,"grid":false,"zindex":1,"title":null}},
"detail":{"field":"c"},"order":{"field":"y","sort":"descending"}}},
{"data":{"name":"hex"},"mark":{"type":"line","clip":true,"color":"#1bd7b3","strokeWidth":1.6},
"encoding":{
"x":{"field":"x","type":"quantitative","axis":{"orient":"bottom","values":[-1080,-1060,-1040,-1020,-980,-960,-940,-920,-880,-860,-840,-820,-780,-760,-740,-720,-680],"tickSize":-2.5,"tickColor":"#000","domain":false,"labels":false,"grid":false,"zindex":1,"title":null}},
"y":{"field":"y","type":"quantitative","axis":{"orient":"left","values":[-180,-160,-140,-120,-80,-60,-40,-20,20,40,60,80,120,140,160,180],"tickSize":-2.5,"tickColor":"#000","domain":false,"labels":false,"grid":false,"zindex":1,"title":null}},
"order":{"field":"i"}}},
{"data":{"name":"labels"},"mark":{"type":"text","font":"DejaVu Sans","fontSize":9,"color":"#2fd3bd","align":"center","baseline":"middle"},
"encoding":{
"x":{"field":"x","type":"quantitative","axis":{"orient":"top","values":[-1080,-1060,-1040,-1020,-980,-960,-940,-920,-880,-860,-840,-820,-780,-760,-740,-720,-680],"tickSize":-2.5,"tickColor":"#000","domain":false,"labels":false,"grid":false,"zindex":1,"title":null}},
"y":{"field":"y","type":"quantitative","axis":{"orient":"right","values":[-180,-160,-140,-120,-80,-60,-40,-20,20,40,60,80,120,140,160,180],"tickSize":-2.5,"tickColor":"#000","domain":false,"labels":false,"grid":false,"zindex":1,"title":null}},
"text":{"field":"t"}}},
{"data":{"name":"fov"},"mark":{"type":"text","font":"DejaVu Sans","fontSize":9,"color":"#2fc4c4","angle":270,"align":"center","baseline":"middle"},
"encoding":{
"x":{"field":"x","type":"quantitative","axis":null},
"y":{"field":"y","type":"quantitative","axis":null},
"text":{"field":"t"}}}
]}
